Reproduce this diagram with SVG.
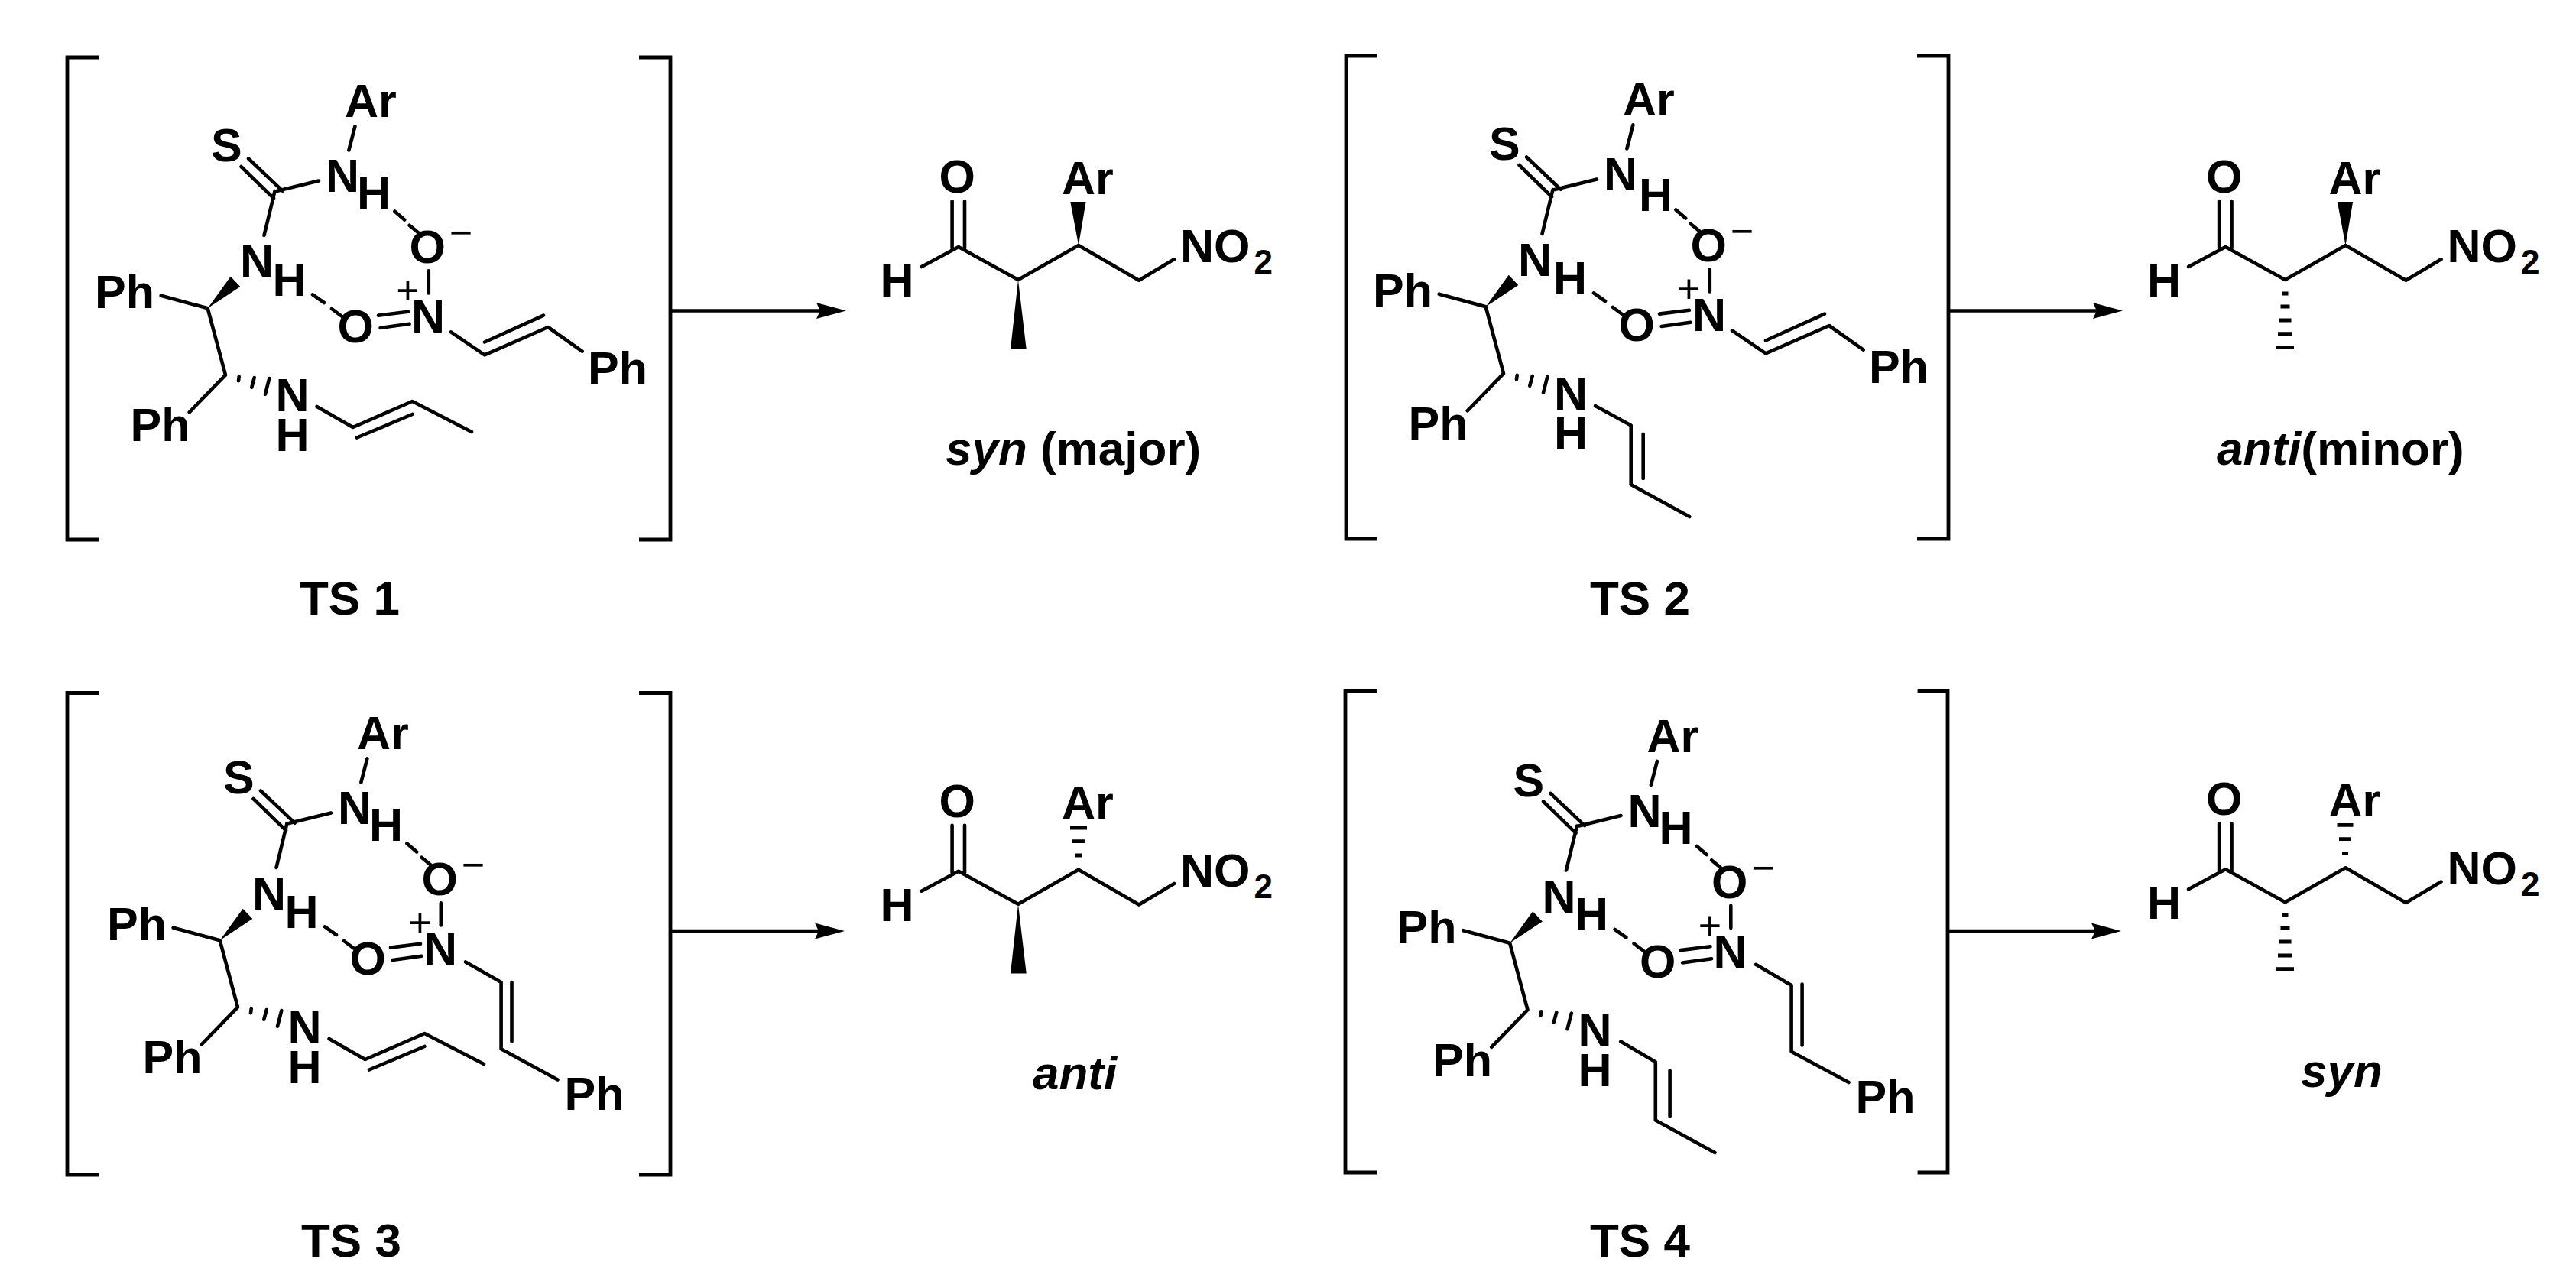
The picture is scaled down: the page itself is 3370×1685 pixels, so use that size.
<svg xmlns="http://www.w3.org/2000/svg" width="3370" height="1685" viewBox="0 0 3370 1685">
<style>
text{font-family:"Liberation Sans",Arial,sans-serif;font-weight:700;font-size:61px;fill:#000}
.c{font-size:52px;font-weight:400;text-anchor:middle}
.sub{font-size:44px}
.l{font-size:62px}
.i{font-style:italic}
.b,.h,.br,.a{fill:none;stroke:#000;stroke-width:4.6}
.b{stroke-linejoin:round;stroke-linecap:round}
.h{stroke-width:4.8}
.br{stroke-width:4.8}
.w{fill:#000}
</style>
<defs>
<marker id="arrowhead" markerUnits="userSpaceOnUse" markerWidth="39" markerHeight="24" viewBox="0 0 39 24" refX="5" refY="12" orient="auto"><path d="M39,12L0,1.500L5,12L0,22.500Z" fill="#000"/></marker>
</defs>
<rect width="3370" height="1685" fill="#fff"/>

<g id="ts1">
<path class="br" d="M129,75H88V706H129M836,75H877V706H836"/>
<g>
<path class="b" d="M464.4,165.4L456.4,196.4M362,250L417,236.6M359.5,250L345.5,308M325,207.5L369.6,249.7M315.5,218L358,259.4M210.700,386.700L271.700,403.300L295,490.700L247.700,539.300M312.700,492.700L312,498.300M332.700,494L329.300,506.700M352.300,495L347,515.700M414.6,532L461.7,559L539.4,525L617,565M467,572.5L539.4,542"/>
<polygon class="w" points="271.700,403.300 301.700,361.700 314.300,375"/>
<text x="451" y="153">Ar</text><text x="276" y="211">S</text><text x="426" y="251">N</text><text x="314" y="363">N</text><text x="124" y="403">Ph</text><text x="170.5" y="577">Ph</text><text x="360.500" y="538">N</text><text x="360.500" y="590">H</text>
</g>
<g>
<path class="b" d="M560.8,354.4V383.5M495,412.6L534,407.7M497.6,429L535.6,423.7M516.4,276.4L529.2,287.5M535.6,294.8L547.4,304.5M409,385.4L424,396M434,404L446.7,413.5M590,434.4L634,464.4L717,428L761.7,459.6M634,447.5L711,412.6"/>
<text x="467" y="273">H</text><text x="356.500" y="386.500">H</text><text x="535.5" y="344">O</text><text class="c" x="603" y="322">−</text><text class="c" x="533.5" y="398">+</text><text x="538" y="435">N</text><text x="441.5" y="448">O</text><text x="769" y="503">Ph</text>
</g>
<text class="l" x="392" y="804">TS 1</text>
</g>

<g id="product-syn-major">
<g>
<path class="b" d="M1205.6,349L1254,323L1332,366L1411,321L1490,366.7L1536,339.3M1245.6,263V325M1262,263V325"/>
<polygon class="w" points="1411,321 1400.3,264 1420.6,264"/>
<polygon class="w" points="1332,366 1322,456.7 1342.7,456.7"/>
<text x="1228.5" y="252">O</text><text x="1151.5" y="388">H</text><text x="1389" y="254">Ar</text><text x="1544" y="343">NO<tspan class="sub" dx="5" dy="15">2</tspan></text>
</g>
<text class="l" x="1237" y="608"><tspan class="i">syn</tspan> (major)</text>
</g>

<g id="ts2">
<path class="br" d="M1802,73H1761V705H1802M2508,73H2549V705H2508"/>
<g transform="translate(1672 -2)">
<path class="b" d="M464.4,165.4L456.4,196.4M362,250L417,236.6M359.5,250L345.5,308M325,207.5L369.6,249.7M315.5,218L358,259.4M210.700,386.700L271.700,403.300L295,490.700L247.700,539.300M312.700,492.700L312,498.300M332.700,494L329.300,506.700M352.300,495L347,515.700"/>
<polygon class="w" points="271.700,403.300 301.700,361.700 314.300,375"/>
<text x="451" y="153">Ar</text><text x="276" y="211">S</text><text x="426" y="251">N</text><text x="314" y="363">N</text><text x="124" y="403">Ph</text><text x="170.5" y="577">Ph</text><text x="361" y="538">N</text><text x="361" y="590">H</text>
</g>
<path class="b" d="M2087,531L2133.7,556.5V634L2210.3,676M2149.7,567.7V626"/>
<g transform="translate(1676 -2)">
<path class="b" d="M560.8,354.4V383.5M495,412.6L534,407.7M497.6,429L535.6,423.7M516.4,276.4L529.2,287.5M535.6,294.8L547.4,304.5M409,385.4L424,396M434,404L446.7,413.5M590,434.4L634,464.4L717,428L761.7,459.6M634,447.5L711,412.6"/>
<text x="468" y="277.5">H</text><text x="356" y="386.500">H</text><text x="535.5" y="344">O</text><text class="c" x="603" y="322">−</text><text class="c" x="533.5" y="398">+</text><text x="538" y="435">N</text><text x="441.5" y="448">O</text><text x="769" y="503">Ph</text>
</g>
<text class="l" x="2080" y="804">TS 2</text>
</g>

<g id="product-anti-minor">
<g transform="translate(1657.5 0)">
<path class="b" d="M1205.6,349L1254,323L1332,366L1411,321L1490,366.7L1536,339.3M1245.6,263V325M1262,263V325"/>
<polygon class="w" points="1411,321 1400.3,264 1420.6,264"/>
<path class="h" d="M1328,384h8M1326,401h12M1324,419h16M1322.5,436.7h19M1320.5,454.3h23"/>
<text x="1228.5" y="252">O</text><text x="1151.5" y="388">H</text><text x="1389" y="254">Ar</text><text x="1544" y="343">NO<tspan class="sub" dx="5" dy="15">2</tspan></text>
</g>
<text class="l" x="2900" y="608"><tspan class="i">anti</tspan>(minor)</text>
</g>

<g id="ts3">
<path class="br" d="M129,906.500H88V1537H129M836,906.500H877V1537H836"/>
<g transform="translate(16 827)">
<path class="b" d="M464.4,165.4L456.4,196.4M362,250L417,236.6M359.5,250L345.5,308M325,207.5L369.6,249.7M315.5,218L358,259.4M210.700,386.700L271.700,403.300L295,490.700L247.700,539.300M312.700,492.700L312,498.300M332.700,494L329.300,506.700M352.300,495L347,515.700M414.6,532L461.7,559L539.4,525L617,565M467,572.5L539.4,542"/>
<polygon class="w" points="271.700,403.300 301.700,361.700 314.300,375"/>
<text x="451" y="153">Ar</text><text x="276" y="211">S</text><text x="426" y="251">N</text><text x="314" y="363">N</text><text x="124" y="403">Ph</text><text x="170.5" y="577">Ph</text><text x="360.500" y="538">N</text><text x="360.500" y="590">H</text>
<path class="b" d="M560.8,354.4V383.5M495,412.6L534,407.7M497.6,429L535.6,423.7M516.4,276.4L529.2,287.5M535.6,294.8L547.4,304.5M409,385.4L424,396M434,404L446.7,413.5"/>
<text x="467" y="273">H</text><text x="356.500" y="386.500">H</text><text x="535.5" y="344">O</text><text class="c" x="603" y="322">−</text><text class="c" x="533.5" y="398">+</text><text x="538" y="435">N</text><text x="441.5" y="448">O</text>
</g>
<path class="b" d="M609,1258.400L655.600,1285V1372.300L729.500,1412.500M669.500,1285V1362.600"/>
<text x="738.500" y="1452">Ph</text>
<text class="l" x="394" y="1644">TS 3</text>
</g>

<g id="product-anti">
<g transform="translate(0 816.7)">
<path class="b" d="M1205.6,349L1254,323L1332,366L1411,321L1490,366.7L1536,339.3M1245.6,263V325M1262,263V325"/>
<polygon class="w" points="1332,366 1322,456.7 1342.7,456.7"/>
<path class="h" d="M1400,266.300h22M1403,284h16M1406.500,302.300h9"/>
<text x="1228.5" y="252">O</text><text x="1151.5" y="388">H</text><text x="1389" y="254">Ar</text><text x="1544" y="343">NO<tspan class="sub" dx="5" dy="15">2</tspan></text>
</g>
<text class="l i" x="1351" y="1425">anti</text>
</g>

<g id="ts4">
<path class="br" d="M1801,903.600H1760V1534H1801M2508.600,903.600H2548V1534H2508.600"/>
<g transform="translate(1703.5 830.5)">
<path class="b" d="M464.4,165.4L456.4,196.4M362,250L417,236.6M359.5,250L345.5,308M325,207.5L369.6,249.7M315.5,218L358,259.4M210.700,386.700L271.700,403.300L295,490.700L247.700,539.300M312.700,492.700L312,498.300M332.700,494L329.300,506.700M352.300,495L347,515.700"/>
<polygon class="w" points="271.700,403.300 301.700,361.700 314.300,375"/>
<text x="451" y="153">Ar</text><text x="276" y="211">S</text><text x="426" y="251">N</text><text x="314" y="363">N</text><text x="124" y="403">Ph</text><text x="170.5" y="577">Ph</text><text x="361" y="538">N</text><text x="361" y="590">H</text>
<path class="b" d="M560.8,354.4V383.5M495,412.6L534,407.7M497.6,429L535.6,423.7M516.4,276.4L529.2,287.5M535.6,294.8L547.4,304.5M409,385.4L424,396M434,404L446.7,413.5"/>
<text x="467" y="273">H</text><text x="356.500" y="386.500">H</text><text x="535.5" y="344">O</text><text class="c" x="603" y="322">−</text><text class="c" x="533.5" y="398">+</text><text x="538" y="435">N</text><text x="441.5" y="448">O</text>
</g>
<path class="b" d="M2120.300,1362.600L2165.800,1389.300V1465.400L2243.500,1508M2184.600,1400.400V1460.500M2297,1261.800L2343.600,1289V1375.700L2418.600,1416M2357.600,1287.500V1367.500"/>
<text x="2427.500" y="1455.700">Ph</text>
<text class="l" x="2080" y="1644">TS 4</text>
</g>

<g id="product-syn">
<g transform="translate(1657.5 814.3)">
<path class="b" d="M1205.6,349L1254,323L1332,366L1411,321L1490,366.7L1536,339.3M1245.6,263V325M1262,263V325"/>
<path class="h" d="M1328,382.400h8M1326,400h12M1324,417.700h16M1322.500,435.700h19M1320.500,453.400h23"/>
<path class="h" d="M1400,265h21M1402.500,283.400h16M1406.500,302.400h8"/>
<text x="1228.5" y="252">O</text><text x="1151.5" y="388">H</text><text x="1389" y="254">Ar</text><text x="1544" y="343">NO<tspan class="sub" dx="5" dy="15">2</tspan></text>
</g>
<text class="l i" x="3010" y="1421.6">syn</text>
</g>

<g id="connectors">
<path class="a" d="M877,406.500H1073" marker-end="url(#arrowhead)"/>
<path class="a" d="M2549,406.500H2743" marker-end="url(#arrowhead)"/>
<path class="a" d="M877,1218H1071" marker-end="url(#arrowhead)"/>
<path class="a" d="M2548,1218H2741" marker-end="url(#arrowhead)"/>
</g>
</svg>
